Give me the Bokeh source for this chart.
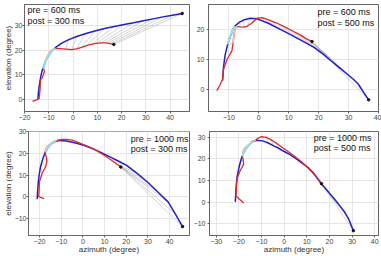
from bokeh.plotting import figure
from bokeh.models import Range1d, Label, SingleIntervalTicker
from bokeh.layouts import column, row
from bokeh.embed import file_html
from bokeh.resources import INLINE

FONT = "Liberation Sans"

# ---- pre = 600 ms, post = 300 ms ----
P1_TRUE_X = [-14.5, -14.3, -14.0, -13.6, -13.3, -12.9, -12.5,
             -11.5, -10.4, -9.0, -7.4,
             -5.0, -2.0, 1.5, 5.0, 9.0, 13.0, 17.0, 21.0, 25.0, 29.0, 33.0, 37.0, 41.0, 45.0]
P1_TRUE_Y = [0.3, 2.5, 5.0, 7.5, 9.3, 11.0, 12.5,
             15.0, 17.3, 19.3, 20.9,
             22.6, 24.1, 25.5, 26.6, 27.7, 28.7, 29.5, 30.3, 31.0, 31.8, 32.6, 33.4, 34.1, 34.8]
P1_PRED_X = [-16.7, -14.0, -13.6, -13.4, -12.6, -11.8, -12.1,
             -11.5, -10.8, -9.5, -7.6,
             -5.5, -3.0, -0.5, 1.5, 3.5, 5.5, 7.5, 9.5, 11.5, 13.0, 14.3, 15.3, 16.1, 16.8]
P1_PRED_Y = [-0.7, 0.3, 4.0, 8.0, 9.0, 11.3, 12.7,
             15.0, 17.0, 19.3, 20.7,
             20.6, 20.4, 20.2, 20.5, 21.1, 21.8, 22.3, 22.7, 22.9, 22.9, 22.8, 22.6, 22.4, 22.3]

# ---- pre = 600 ms, post = 500 ms ----
P2_TRUE_X = [-12.1, -11.9, -11.8, -11.5, -11.2, -10.8, -10.4,
             -9.8, -9.3, -8.8, -8.0,
             -6.4, -5.1, -2.8, -0.6, 3.0, 7.5, 10.3, 13.1, 15.9, 18.7, 21.5, 24.2, 27.0, 29.8, 31.6, 33.2, 36.7]
P2_TRUE_Y = [3.0, 5.5, 7.4, 9.7, 11.8, 13.5, 15.1,
             17.0, 18.4, 19.8, 21.3,
             22.6, 23.3, 23.9, 23.7, 22.3, 20.0, 18.6, 17.1, 15.6, 14.0, 11.9, 9.6, 7.3, 5.0, 3.5, 1.9, -3.4]
P2_PRED_X = [-14.0, -13.0, -12.1, -11.8, -10.6, -9.0, -8.6,
             -8.4, -8.2, -7.9, -7.3,
             -6.2, -5.0, -3.9, -2.3, -0.6, 1.1, 3.5, 6.0, 8.5, 11.0, 13.5, 15.8, 17.0, 17.4, 17.6, 17.7, 17.8]
P2_PRED_Y = [-0.3, 1.5, 3.5, 6.8, 10.1, 12.9, 15.5,
             17.2, 18.8, 20.3, 21.2,
             21.0, 20.9, 21.2, 22.3, 23.9, 24.1, 23.3, 22.3, 21.1, 19.8, 18.5, 17.1, 16.5, 16.3, 16.2, 16.1, 16.1]

# ---- pre = 1000 ms, post = 300 ms ----
P3_TRUE_X = [-21.1, -20.9, -20.6, -20.2, -19.6, -19.0, -18.4, -17.8,
             -17.3, -16.3, -15.2, -14.0,
             -12.5, -10.8, -7.8, -4.9, -2.0, 1.0, 3.5, 6.0, 9.0, 12.5, 16.3, 20.2, 25.0, 29.8, 34.6, 39.4, 42.7, 46.0]
P3_TRUE_Y = [-1.2, 2.5, 6.5, 10.0, 13.5, 15.8, 17.8, 19.4,
             20.5, 22.3, 23.7, 24.8,
             25.5, 26.0, 25.7, 25.1, 24.4, 23.5, 22.6, 21.5, 20.1, 18.4, 16.5, 14.5, 10.8, 6.8, 2.2, -2.5, -8.0, -13.8]
P3_PRED_X = [-17.9, -20.4, -20.2, -20.0, -18.8, -17.2, -16.6, -17.0,
             -17.6, -16.8, -15.5, -13.8,
             -12.0, -10.0, -7.5, -4.9, -2.5, 0.0, 2.5, 5.0, 7.5, 10.0, 12.5, 14.5, 15.8, 16.6, 17.0, 17.2, 17.4, 17.5]
P3_PRED_Y = [-0.9, 0.0, 3.3, 7.0, 10.8, 13.8, 16.5, 18.8,
             20.6, 22.6, 24.0, 25.2,
             26.0, 26.4, 26.5, 26.1, 25.2, 24.2, 23.1, 22.0, 20.6, 19.0, 17.3, 15.9, 14.9, 14.4, 14.1, 13.9, 13.8, 13.7]

# ---- pre = 1000 ms, post = 500 ms ----
P4_TRUE_X = [-21.6, -21.4, -21.2, -20.8, -20.3, -19.8, -19.2,
             -18.6, -17.6, -16.4, -15.2,
             -14.2, -12.0, -9.1, -6.8, -4.6, -2.4, -0.2, 2.8, 5.7, 8.2, 10.6, 13.0, 15.3, 17.3, 19.7, 22.3, 24.9, 26.8, 28.4, 30.6]
P4_TRUE_Y = [0.1, 4.0, 7.5, 11.6, 14.3, 16.8, 19.0,
             21.2, 23.4, 25.3, 26.8,
             27.9, 28.6, 28.2, 27.2, 26.0, 24.9, 23.5, 21.8, 19.8, 17.8, 16.0, 13.4, 10.2, 7.4, 4.5, 1.3, -2.1, -4.7, -7.6, -13.2]
P4_PRED_X = [-17.9, -21.3, -21.1, -20.8, -19.4, -17.9, -18.1,
             -18.4, -17.9, -16.5, -14.5,
             -12.5, -11.2, -9.8, -8.0, -6.1, -3.1, -0.5, 2.5, 5.0, 7.5, 9.8, 12.0, 13.8, 15.0, 15.6, 16.0, 16.2, 16.3, 16.4, 16.5]
P4_PRED_Y = [-0.4, 2.8, 7.0, 10.9, 14.6, 17.5, 19.5,
             21.2, 24.2, 25.8, 27.5,
             28.8, 29.8, 30.3, 29.9, 29.0, 27.0, 25.0, 22.8, 20.9, 18.8, 16.6, 14.3, 12.0, 10.4, 9.5, 9.0, 8.7, 8.6, 8.5, 8.5]

TRUE_COLOR = "#1f1fd0"
PRED_COLOR = "#e02828"
TRUE_WIN_COLOR = "#86e4ea"
PRED_WIN_COLOR = "#f5b9a4"
LINK_COLOR = "#9a9a9a"


def make_panel(x_range, y_range, borders, size, xlabel, ylabel, ystandoff):
    w, h = size
    p = figure(width=w, height=h, x_range=Range1d(*x_range), y_range=Range1d(*y_range),
               output_backend="svg", toolbar_location=None)
    p.min_border_left, p.min_border_right, p.min_border_top, p.min_border_bottom = borders
    p.background_fill_color = "white"
    p.border_fill_color = "white"
    p.outline_line_color = "#666666"
    p.outline_line_width = 1
    p.grid.grid_line_color = "#e6e6e6"
    p.grid.grid_line_width = 1
    for ax in (p.xaxis[0], p.yaxis[0]):
        ax.ticker = SingleIntervalTicker(interval=10, num_minor_ticks=0)
        ax.axis_line_color = "#666666"
        ax.major_tick_line_color = "#666666"
        ax.major_tick_out = 2
        ax.major_tick_in = 0
        ax.minor_tick_line_color = None
        ax.major_label_text_font = FONT
        ax.major_label_text_font_size = "7px"
        ax.major_label_text_color = "#444444"
        ax.axis_label_text_font = FONT
        ax.axis_label_text_font_size = "8px"
        ax.axis_label_text_font_style = "normal"
        ax.axis_label_text_color = "#333333"
    p.xaxis.major_label_standoff = 1
    p.yaxis.major_label_standoff = ystandoff
    if xlabel:
        p.xaxis.axis_label = xlabel
        p.xaxis.axis_label_standoff = -2
    if ylabel:
        p.yaxis.axis_label = ylabel
        p.yaxis.axis_label_standoff = -1
    return p


def draw_tracks(p, tx, ty, px, py, link_start, win_start, post_start):
    n = len(tx)
    idx = range(link_start, n)
    p.segment(x0=[px[i] for i in idx], y0=[py[i] for i in idx],
              x1=[tx[i] for i in idx], y1=[ty[i] for i in idx],
              line_color=LINK_COLOR, line_width=0.6, line_alpha=0.7)
    p.line(tx, ty, line_color=TRUE_COLOR, line_width=1.5)
    p.line(px, py, line_color=PRED_COLOR, line_width=1.3)
    p.line(px[win_start:post_start + 1], py[win_start:post_start + 1],
           line_color=PRED_WIN_COLOR, line_width=1.6)
    p.line(tx[win_start:post_start + 1], ty[win_start:post_start + 1],
           line_color=TRUE_WIN_COLOR, line_width=1.8)
    p.scatter([tx[-1], px[-1]], [ty[-1], py[-1]], size=2.5, color="#111111", marker="circle")


def add_caption(p, x, y_top, y_bottom, pre, post):
    for yy, txt in ((y_top, pre), (y_bottom, post)):
        p.add_layout(Label(x=x, y=yy, text=txt, text_font=FONT, text_font_size="9px",
                           text_color="#111111", text_baseline="middle", text_align="left"))


p1 = make_panel((-20, 48), (-4.8, 38.4), (21, 1, 4, 12), (190, 124), None, "elevation (degree)", 0)
draw_tracks(p1, P1_TRUE_X, P1_TRUE_Y, P1_PRED_X, P1_PRED_Y, 6, 6, 10)
add_caption(p1, -18.8, 36.0, 31.6, "pre = 600 ms", "post = 300 ms")

p2 = make_panel((-16.8, 40), (-7.3, 28.5), (18, 3, 3, 13), (191, 124), None, None, 2)
draw_tracks(p2, P2_TRUE_X, P2_TRUE_Y, P2_PRED_X, P2_PRED_Y, 6, 6, 10)
add_caption(p2, 19.6, 26.1, 22.4, "pre = 600 ms", "post = 500 ms")

p3 = make_panel((-25.1, 49.2), (-17.9, 30.1), (21, 1, 6, 17), (190, 132), "azimuth (degree)", "elevation (degree)", 0)
draw_tracks(p3, P3_TRUE_X, P3_TRUE_Y, P3_PRED_X, P3_PRED_Y, 4, 8, 12)
add_caption(p3, 22.1, 26.6, 21.9, "pre = 1000 ms", "post = 300 ms")

p4 = make_panel((-33, 41.7), (-15.45, 32.65), (19, 3, 7, 17), (191, 132), "azimuth (degree)", None, 2)
draw_tracks(p4, P4_TRUE_X, P4_TRUE_Y, P4_PRED_X, P4_PRED_Y, 4, 7, 11)
add_caption(p4, 13.1, 29.8, 25.0, "pre = 1000 ms", "post = 500 ms")

layout = column(row(p1, p2), row(p3, p4))
open("out.html", "w").write(file_html(layout, INLINE))
